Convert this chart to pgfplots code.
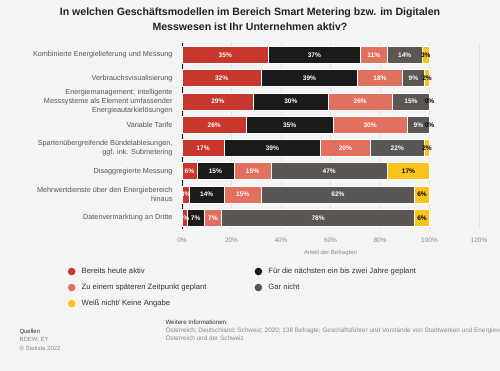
\documentclass[border=0pt]{standalone}
\usepackage{pgfplots}
\pgfplotsset{compat=1.18}
\usepackage{fontspec}
\setmainfont{Liberation Sans}
\definecolor{bgc}{HTML}{F4F4F4}
\definecolor{cRed}{HTML}{C8372D}
\definecolor{cBlack}{HTML}{1B1B1B}
\definecolor{cSalmon}{HTML}{E2705F}
\definecolor{cGray}{HTML}{5A5654}
\definecolor{cYellow}{HTML}{FBC31A}
\definecolor{titlec}{HTML}{222222}
\definecolor{labc}{HTML}{555555}
\definecolor{tickc}{HTML}{8A8A8A}
\definecolor{gridc}{HTML}{E2E2E2}
\definecolor{legc}{HTML}{333333}
\begin{document}
\begin{tikzpicture}
\useasboundingbox (0,0) rectangle (500bp,-371bp);
\fill[bgc] (0,0) rectangle (500bp,-371bp);
\node[font=\bfseries\fontsize{10.6}{15}\selectfont, align=center, text=titlec] at (250bp,-19.5bp)
 {In welchen Geschäftsmodellen im Bereich Smart Metering bzw. im Digitalen\\Messwesen ist Ihr Unternehmen aktiv?};
\begin{axis}[
 at={(182bp,-43.4bp)}, anchor=north west,
 scale only axis, width=297bp, height=186bp,
 xbar stacked, bar width=0.73,
 xmin=0, xmax=120, ymin=-0.5, ymax=7.5, y dir=reverse,
 ytick={0,...,7},
 yticklabels={Kombinierte Energielieferung und Messung,
  Verbrauchsvisualisierung,
  {Energiemanagement: intelligente\\Messsysteme als Element umfassender\\Energieautarkielösungen},
  Variable Tarife,
  {Spartenübergreifende Bündelablesungen,\\ggf. ink. Submetering},
  Disaggregierte Messung,
  {Mehrwertdienste über den Energiebereich\\hinaus},
  Datenvermarktung an Dritte},
 yticklabel style={font=\fontsize{7.3}{9}\selectfont, text=labc, align=right, xshift=-6bp},
 xtick={0,20,...,120},
 xticklabel={\pgfmathprintnumber{\tick}\%},
 xticklabel style={font=\fontsize{6.5}{8}\selectfont, text=tickc, yshift=-5bp},
 /pgf/number format/assume math mode=true,
 major tick length=0,
 axis line style={draw=none},
 xmajorgrids, grid style={gridc, line width=0.5pt},
 xlabel={Anteil der Befragten},
 every axis x label/.style={at={(axis description cs:0.5,0)}, anchor=center, yshift=-23.8bp, font=\fontsize{6}{7}\selectfont, text=tickc},
 point meta=rawx,
 nodes near coords={\pgfmathprintnumber[fixed,precision=0]{\pgfplotspointmeta}\%},
 every node near coord/.append style={font=\bfseries\fontsize{6.6}{7}\selectfont, text=white, inner sep=0.5pt},
 legend columns=2,
 legend cell align=left,
 legend image code/.code={\fill[#1, draw=none] (0bp,0bp) circle (3.8bp); \path[draw=none, fill=none] (0bp,0bp) -- (8bp,0bp);},
 legend style={at={(axis description cs:-0.395,-0.185)}, anchor=north west, draw=none, fill=none,
   font=\fontsize{7.7}{9}\selectfont, text=legc, row sep=5bp,
   /tikz/every even column/.append style={column sep=46bp}},
]
\addplot+[fill=cRed, draw=white, line width=0.6pt] coordinates {(35,0) (32,1) (29,2) (26,3) (17,4) (6,5) (3,6) (2,7)};
\addplot+[fill=cBlack, draw=white, line width=0.6pt] coordinates {(37,0) (39,1) (30,2) (35,3) (39,4) (15,5) (14,6) (7,7)};
\addplot+[fill=cSalmon, draw=white, line width=0.6pt] coordinates {(11,0) (18,1) (26,2) (30,3) (20,4) (15,5) (15,6) (7,7)};
\addplot+[fill=cGray, draw=white, line width=0.6pt] coordinates {(14,0) (9,1) (15,2) (9,3) (22,4) (47,5) (62,6) (78,7)};
\addplot+[fill=cYellow, draw=white, line width=0.6pt, every node near coord/.append style={text=black}] coordinates {(3,0) (2,1) (0.0001,2) (0.0001,3) (2,4) (17,5) (6,6) (6,7)};
\legend{Bereits heute aktiv, Für die nächsten ein bis zwei Jahre geplant, Zu einem späteren Zeitpunkt geplant, Gar nicht, Weiß nicht/ Keine Angabe}
\draw[black, line width=0.9pt] (axis cs:0,-0.5) -- (axis cs:0,7.5);
\end{axis}
\node[anchor=west, font=\fontsize{6}{7}\selectfont, text=legc] at (16bp,-332bp) {Quellen};
\node[anchor=west, font=\fontsize{6}{7}\selectfont, text=tickc] at (16bp,-340bp) {BDEW; EY};
\node[anchor=west, font=\fontsize{6}{7}\selectfont, text=tickc] at (16bp,-348bp) {© Statista 2022};
\node[anchor=west, font=\fontsize{6.2}{7}\selectfont, text=legc] at (162bp,-322bp) {Weitere Informationen:};
\node[anchor=west, font=\fontsize{6.4}{7}\selectfont, text=tickc] at (162bp,-330bp) {Österreich; Deutschland; Schweiz; 2020; 138 Befragte; Geschäftsführer und Vorstände von Stadtwerken und Energieversorgern};
\node[anchor=west, font=\fontsize{6.4}{7}\selectfont, text=tickc] at (162bp,-338bp) {Österreich und der Schweiz};
\end{tikzpicture}
\end{document}
